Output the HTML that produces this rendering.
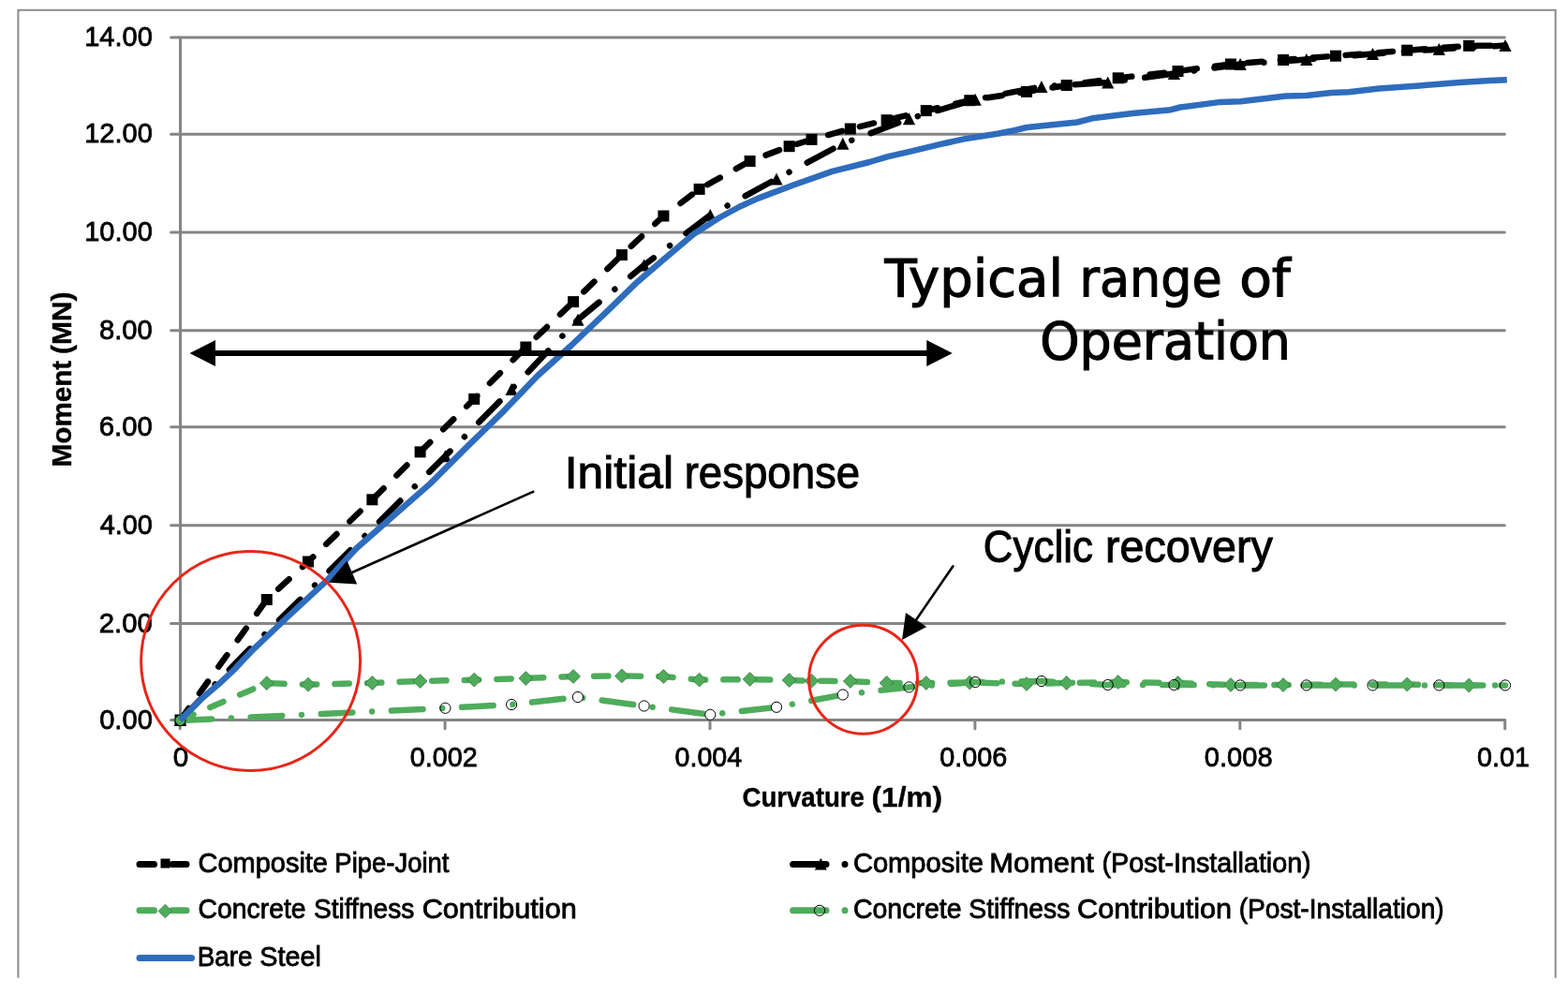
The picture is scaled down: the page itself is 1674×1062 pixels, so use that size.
<!DOCTYPE html>
<html lang="en"><head><meta charset="utf-8"><title>Moment-Curvature chart</title>
<style>html,body{margin:0;padding:0;background:#fff;}svg{display:block;}text{font-family:"Liberation Sans",sans-serif;fill:#000;}.lg{font-family:"DejaVu Sans","Liberation Sans",sans-serif;}</style></head><body>
<svg width="1674" height="1062" viewBox="0 0 1674 1062">
<rect width="1674" height="1062" fill="#fff"/>
<path d="M19.4,1043.7 V10.65 H1660.65 V1043.7" fill="none" stroke="#8a8a8a" stroke-width="2"/>
<g stroke="#858585" stroke-width="3" stroke-linecap="round" fill="none">
<line x1="182.6" y1="768.5" x2="1606.3" y2="768.5"/>
<line x1="182.6" y1="665.6" x2="1606.3" y2="665.6"/>
<line x1="182.6" y1="560.7" x2="1606.3" y2="560.7"/>
<line x1="182.6" y1="455.8" x2="1606.3" y2="455.8"/>
<line x1="182.6" y1="352.7" x2="1606.3" y2="352.7"/>
<line x1="182.6" y1="248.0" x2="1606.3" y2="248.0"/>
<line x1="182.6" y1="143.2" x2="1606.3" y2="143.2"/>
<line x1="182.6" y1="39.9" x2="1606.3" y2="39.9"/>
<line x1="192.5" y1="39.9" x2="192.5" y2="768.5"/>
<line x1="192.2" y1="768.5" x2="192.2" y2="777.7"/>
<line x1="475.1" y1="768.5" x2="475.1" y2="777.7"/>
<line x1="758.0" y1="768.5" x2="758.0" y2="777.7"/>
<line x1="1040.9" y1="768.5" x2="1040.9" y2="777.7"/>
<line x1="1323.8" y1="768.5" x2="1323.8" y2="777.7"/>
<line x1="1606.7" y1="768.5" x2="1606.7" y2="777.7"/>
</g>
<text x="106.16" y="777.7" font-size="29.4" textLength="56.67" lengthAdjust="spacingAndGlyphs" stroke="#000" stroke-width="0.8">0.00</text>
<text x="105.83" y="674.8" font-size="29.4" textLength="57.02" lengthAdjust="spacingAndGlyphs" stroke="#000" stroke-width="0.8">2.00</text>
<text x="106.64" y="569.9" font-size="29.4" textLength="56.19" lengthAdjust="spacingAndGlyphs" stroke="#000" stroke-width="0.8">4.00</text>
<text x="105.81" y="465.0" font-size="29.4" textLength="57.03" lengthAdjust="spacingAndGlyphs" stroke="#000" stroke-width="0.8">6.00</text>
<text x="106.03" y="361.9" font-size="29.4" textLength="56.81" lengthAdjust="spacingAndGlyphs" stroke="#000" stroke-width="0.8">8.00</text>
<text x="90.19" y="257.2" font-size="29.4" textLength="72.65" lengthAdjust="spacingAndGlyphs" stroke="#000" stroke-width="0.8">10.00</text>
<text x="90.19" y="152.4" font-size="29.4" textLength="72.65" lengthAdjust="spacingAndGlyphs" stroke="#000" stroke-width="0.8">12.00</text>
<text x="90.19" y="49.1" font-size="29.4" textLength="72.65" lengthAdjust="spacingAndGlyphs" stroke="#000" stroke-width="0.8">14.00</text>
<text x="184.84" y="818.0" font-size="29.4" textLength="16.52" lengthAdjust="spacingAndGlyphs" stroke="#000" stroke-width="0.8">0</text>
<text x="437.67" y="818.0" font-size="29.4" textLength="72.07" lengthAdjust="spacingAndGlyphs" stroke="#000" stroke-width="0.8">0.002</text>
<text x="720.58" y="818.0" font-size="29.4" textLength="71.45" lengthAdjust="spacingAndGlyphs" stroke="#000" stroke-width="0.8">0.004</text>
<text x="1003.17" y="818.0" font-size="29.4" textLength="72.09" lengthAdjust="spacingAndGlyphs" stroke="#000" stroke-width="0.8">0.006</text>
<text x="1285.87" y="818.0" font-size="29.4" textLength="72.70" lengthAdjust="spacingAndGlyphs" stroke="#000" stroke-width="0.8">0.008</text>
<text x="1577.08" y="818.0" font-size="29.4" textLength="55.93" lengthAdjust="spacingAndGlyphs" stroke="#000" stroke-width="0.8">0.01</text>
<text x="792.47" y="861.0" font-size="29.8" font-weight="bold" textLength="130.38" lengthAdjust="spacingAndGlyphs" stroke="#000" stroke-width="0.4">Curvature</text>
<text x="930.63" y="861.0" font-size="29.8" font-weight="bold" textLength="75.34" lengthAdjust="spacingAndGlyphs" stroke="#000" stroke-width="0.4">(1/m)</text>
<g transform="translate(76.3,0) rotate(-90)">
<text x="-498.38" y="0.0" font-size="29.8" font-weight="bold" textLength="113.54" lengthAdjust="spacingAndGlyphs" stroke="#000" stroke-width="0.4">Moment</text>
<text x="-377.99" y="0.0" font-size="29.8" font-weight="bold" textLength="66.48" lengthAdjust="spacingAndGlyphs" stroke="#000" stroke-width="0.4">(MN)</text>
</g>
<polyline points="192.5,768.5 263.2,696.0 333.9,626.8 404.7,557.0 475.4,486.8 546.1,415.6 616.9,341.3 687.6,283.0 758.3,229.5 829.0,190.9 899.8,153.3 970.5,126.8 1041.2,106.2 1111.9,92.4 1182.7,88.0 1253.4,78.5 1324.1,68.5 1394.8,63.5 1465.5,57.5 1536.3,52.5 1607.0,48.6" fill="none" stroke="#000" stroke-width="6.5" stroke-linecap="round" stroke-linejoin="round" stroke-dasharray="31.5 21.75 0.01 21.75"/>
<g fill="#000">
<path d="M192.5,762.0 l6.6,13 h-13.2 z"/>
<path d="M475.4,480.3 l6.6,13 h-13.2 z"/>
<path d="M546.1,409.1 l6.6,13 h-13.2 z"/>
<path d="M616.9,334.8 l6.6,13 h-13.2 z"/>
<path d="M687.6,276.5 l6.6,13 h-13.2 z"/>
<path d="M758.3,223.0 l6.6,13 h-13.2 z"/>
<path d="M829.0,184.4 l6.6,13 h-13.2 z"/>
<path d="M899.8,146.8 l6.6,13 h-13.2 z"/>
<path d="M970.5,120.3 l6.6,13 h-13.2 z"/>
<path d="M1041.2,99.7 l6.6,13 h-13.2 z"/>
<path d="M1111.9,85.9 l6.6,13 h-13.2 z"/>
<path d="M1182.7,81.5 l6.6,13 h-13.2 z"/>
<path d="M1253.4,72.0 l6.6,13 h-13.2 z"/>
<path d="M1324.1,62.0 l6.6,13 h-13.2 z"/>
<path d="M1394.8,57.0 l6.6,13 h-13.2 z"/>
<path d="M1465.5,51.0 l6.6,13 h-13.2 z"/>
<path d="M1536.3,46.0 l6.6,13 h-13.2 z"/>
<path d="M1607.0,42.1 l6.6,13 h-13.2 z"/>
</g>
<polyline points="192.5,768.5 284.8,640.0 329.0,599.5 397.4,533.3 448.6,482.4 506.2,425.9 561.4,370.5 612.1,322.1 663.9,272.1 708.4,230.5 746.6,201.9 800.6,172.0 842.6,156.2 866.5,148.9 907.8,137.5 946.6,128.2 988.8,118.1 1035.3,107.2 1096.0,97.9 1138.7,91.0 1193.7,83.3 1257.5,76.0 1314.0,68.5 1370.0,64.0 1426.0,59.7 1502.2,53.7 1568.2,48.9 1607.0,48.5" fill="none" stroke="#000" stroke-width="6.5" stroke-linecap="round" stroke-linejoin="round" stroke-dasharray="15.5 19.5"/>
<g fill="#000">
<rect x="186.5" y="762.5" width="12" height="12"/>
<rect x="278.8" y="634.0" width="12" height="12"/>
<rect x="323.0" y="593.5" width="12" height="12"/>
<rect x="391.4" y="527.3" width="12" height="12"/>
<rect x="442.6" y="476.4" width="12" height="12"/>
<rect x="500.2" y="419.9" width="12" height="12"/>
<rect x="555.4" y="364.5" width="12" height="12"/>
<rect x="606.1" y="316.1" width="12" height="12"/>
<rect x="657.9" y="266.1" width="12" height="12"/>
<rect x="702.4" y="224.5" width="12" height="12"/>
<rect x="740.6" y="195.9" width="12" height="12"/>
<rect x="794.6" y="166.0" width="12" height="12"/>
<rect x="836.6" y="150.2" width="12" height="12"/>
<rect x="860.5" y="142.9" width="12" height="12"/>
<rect x="901.8" y="131.5" width="12" height="12"/>
<rect x="940.6" y="122.2" width="12" height="12"/>
<rect x="982.8" y="112.1" width="12" height="12"/>
<rect x="1029.3" y="101.2" width="12" height="12"/>
<rect x="1090.0" y="91.9" width="12" height="12"/>
<rect x="1132.7" y="85.0" width="12" height="12"/>
<rect x="1187.7" y="77.3" width="12" height="12"/>
<rect x="1251.5" y="70.0" width="12" height="12"/>
<rect x="1308.0" y="62.5" width="12" height="12"/>
<rect x="1364.0" y="58.0" width="12" height="12"/>
<rect x="1420.0" y="53.7" width="12" height="12"/>
<rect x="1496.2" y="47.7" width="12" height="12"/>
<rect x="1562.2" y="42.9" width="12" height="12"/>
</g>
<polyline points="192.5,768.5 284.8,729.2 329.0,730.6 397.4,729.0 448.6,727.0 506.2,725.7 561.4,724.0 612.1,722.0 663.9,721.4 708.4,722.0 746.6,725.7 800.6,725.0 842.6,726.0 866.5,726.7 907.8,727.0 946.6,729.0 988.8,729.0 1035.3,728.5 1096.0,730.0 1138.7,729.0 1193.7,728.0 1257.5,729.0 1314.0,731.0 1370.0,731.0 1426.0,730.5 1502.2,730.5 1568.2,731.5 1607.0,731.5" fill="none" stroke="#4EAC5B" stroke-width="6.5" stroke-linecap="round" stroke-linejoin="round" stroke-dasharray="15.3 19.3"/>
<g fill="#4EAC5B" stroke="#2e6e3a" stroke-width="0.7">
<path d="M192.5,761.1 l7.4,7.4 l-7.4,7.4 l-7.4,-7.4 z"/>
<path d="M284.8,721.8 l7.4,7.4 l-7.4,7.4 l-7.4,-7.4 z"/>
<path d="M329.0,723.2 l7.4,7.4 l-7.4,7.4 l-7.4,-7.4 z"/>
<path d="M397.4,721.6 l7.4,7.4 l-7.4,7.4 l-7.4,-7.4 z"/>
<path d="M448.6,719.6 l7.4,7.4 l-7.4,7.4 l-7.4,-7.4 z"/>
<path d="M506.2,718.3 l7.4,7.4 l-7.4,7.4 l-7.4,-7.4 z"/>
<path d="M561.4,716.6 l7.4,7.4 l-7.4,7.4 l-7.4,-7.4 z"/>
<path d="M612.1,714.6 l7.4,7.4 l-7.4,7.4 l-7.4,-7.4 z"/>
<path d="M663.9,714.0 l7.4,7.4 l-7.4,7.4 l-7.4,-7.4 z"/>
<path d="M708.4,714.6 l7.4,7.4 l-7.4,7.4 l-7.4,-7.4 z"/>
<path d="M746.6,718.3 l7.4,7.4 l-7.4,7.4 l-7.4,-7.4 z"/>
<path d="M800.6,717.6 l7.4,7.4 l-7.4,7.4 l-7.4,-7.4 z"/>
<path d="M842.6,718.6 l7.4,7.4 l-7.4,7.4 l-7.4,-7.4 z"/>
<path d="M866.5,719.3 l7.4,7.4 l-7.4,7.4 l-7.4,-7.4 z"/>
<path d="M907.8,719.6 l7.4,7.4 l-7.4,7.4 l-7.4,-7.4 z"/>
<path d="M946.6,721.6 l7.4,7.4 l-7.4,7.4 l-7.4,-7.4 z"/>
<path d="M988.8,721.6 l7.4,7.4 l-7.4,7.4 l-7.4,-7.4 z"/>
<path d="M1035.3,721.1 l7.4,7.4 l-7.4,7.4 l-7.4,-7.4 z"/>
<path d="M1096.0,722.6 l7.4,7.4 l-7.4,7.4 l-7.4,-7.4 z"/>
<path d="M1138.7,721.6 l7.4,7.4 l-7.4,7.4 l-7.4,-7.4 z"/>
<path d="M1193.7,720.6 l7.4,7.4 l-7.4,7.4 l-7.4,-7.4 z"/>
<path d="M1257.5,721.6 l7.4,7.4 l-7.4,7.4 l-7.4,-7.4 z"/>
<path d="M1314.0,723.6 l7.4,7.4 l-7.4,7.4 l-7.4,-7.4 z"/>
<path d="M1370.0,723.6 l7.4,7.4 l-7.4,7.4 l-7.4,-7.4 z"/>
<path d="M1426.0,723.1 l7.4,7.4 l-7.4,7.4 l-7.4,-7.4 z"/>
<path d="M1502.2,723.1 l7.4,7.4 l-7.4,7.4 l-7.4,-7.4 z"/>
<path d="M1568.2,724.1 l7.4,7.4 l-7.4,7.4 l-7.4,-7.4 z"/>
</g>
<polyline points="192.5,769.0 263.2,765.7 333.9,762.4 404.7,759.1 475.4,755.8 546.1,752.0 616.9,744.0 687.6,753.5 758.3,762.8 829.0,754.8 899.8,741.5 970.5,733.4 1041.2,728.0 1111.9,727.0 1182.7,731.0 1253.4,731.0 1324.1,731.4 1394.8,731.4 1465.5,731.4 1536.3,731.4 1607.0,731.4" fill="none" stroke="#4EAC5B" stroke-width="6.5" stroke-linecap="round" stroke-linejoin="round" stroke-dasharray="33.7 20.75 0.01 20.75"/>
<g fill="none" stroke="#000" stroke-width="1">
<circle cx="192.5" cy="769.0" r="5.6"/>
<circle cx="475.4" cy="755.8" r="5.6"/>
<circle cx="546.1" cy="752.0" r="5.6"/>
<circle cx="616.9" cy="744.0" r="5.6" fill="#fff"/>
<circle cx="687.6" cy="753.5" r="5.6" fill="#fff"/>
<circle cx="758.3" cy="762.8" r="5.6" fill="#fff"/>
<circle cx="829.0" cy="754.8" r="5.6" fill="#fff"/>
<circle cx="899.8" cy="741.5" r="5.6" fill="#fff"/>
<circle cx="970.5" cy="733.4" r="5.6"/>
<circle cx="1041.2" cy="728.0" r="5.6"/>
<circle cx="1111.9" cy="727.0" r="5.6"/>
<circle cx="1182.7" cy="731.0" r="5.6"/>
<circle cx="1253.4" cy="731.0" r="5.6"/>
<circle cx="1324.1" cy="731.4" r="5.6"/>
<circle cx="1394.8" cy="731.4" r="5.6"/>
<circle cx="1465.5" cy="731.4" r="5.6"/>
<circle cx="1536.3" cy="731.4" r="5.6"/>
<circle cx="1607.0" cy="731.4" r="5.6"/>
</g>
<polyline points="192.3,768.8 205.0,756.0 216.9,744.3 233.9,729.8 250.8,714.0 259.3,704.8 270.7,692.8 308.6,657.0 348.2,620.4 380.0,585.7 419.5,551.0 459.1,516.4 498.6,476.9 538.2,438.3 574.0,401.0 609.5,369.0 649.1,331.4 680.7,300.7 708.4,277.0 740.0,250.3 767.7,232.5 789.8,220.5 809.5,211.6 849.1,196.8 888.6,182.9 928.2,173.0 948.0,167.1 970.0,162.2 1009.5,152.7 1029.3,148.4 1064.9,142.8 1080.0,139.8 1096.1,136.0 1149.9,130.5 1166.0,126.3 1209.0,121.0 1249.9,117.2 1260.0,114.5 1303.0,108.9 1324.5,108.2 1372.9,102.6 1394.4,102.0 1421.3,99.1 1440.0,98.2 1472.3,94.4 1515.3,91.4 1558.3,88.0 1590.5,85.9 1608.8,85.3" fill="none" stroke="#2E6CBD" stroke-width="6.5" stroke-linecap="butt" stroke-linejoin="round"/>
<circle cx="267.6" cy="705.5" r="117" fill="none" stroke="#E82618" stroke-width="3"/>
<circle cx="921.6" cy="725.25" r="57.95" fill="none" stroke="#E82618" stroke-width="3"/>
<line x1="225" y1="377" x2="995" y2="377" stroke="#000" stroke-width="6"/>
<path d="M202.5,377 L230,363 V391 Z M1016.8,377 L989.3,363 V391 Z" fill="#000"/>
<line x1="570.2" y1="524.4" x2="372" y2="612.7" stroke="#000" stroke-width="2.6"/>
<path d="M351,621.8 L370.5,598.6 L381.2,623.4 Z" fill="#000"/>
<line x1="1018" y1="603.5" x2="975" y2="666" stroke="#000" stroke-width="2.6"/>
<path d="M963,683.1 L967,653.9 L989.2,669.1 Z" fill="#000"/>
<text x="944.56" y="315.7" font-size="55.5" class="lg" textLength="190.46" lengthAdjust="spacingAndGlyphs" stroke="#000" stroke-width="1.2">Typical</text>
<text x="1152.55" y="315.7" font-size="55.5" class="lg" textLength="152.03" lengthAdjust="spacingAndGlyphs" stroke="#000" stroke-width="1.2">range</text>
<text x="1323.17" y="315.7" font-size="55.5" class="lg" textLength="54.65" lengthAdjust="spacingAndGlyphs" stroke="#000" stroke-width="1.2">of</text>
<text x="1110.18" y="383.0" font-size="55.5" class="lg" textLength="267.79" lengthAdjust="spacingAndGlyphs" stroke="#000" stroke-width="1.2">Operation</text>
<text x="602.70" y="520.8" font-size="47.5" textLength="116.33" lengthAdjust="spacingAndGlyphs" stroke="#000" stroke-width="1.0">Initial</text>
<text x="730.67" y="520.8" font-size="47.5" textLength="187.55" lengthAdjust="spacingAndGlyphs" stroke="#000" stroke-width="1.0">response</text>
<text x="1049.87" y="599.5" font-size="47.5" textLength="116.98" lengthAdjust="spacingAndGlyphs" stroke="#000" stroke-width="1.0">Cyclic</text>
<text x="1180.00" y="599.5" font-size="47.5" textLength="178.79" lengthAdjust="spacingAndGlyphs" stroke="#000" stroke-width="1.0">recovery</text>
<line x1="149" y1="922.6" x2="199" y2="922.6" stroke="#000" stroke-width="7" stroke-linecap="round" stroke-dasharray="15.5 19.5"/>
<rect x="171.5" y="916.5" width="10" height="10" fill="#000"/>
<text x="211.53" y="930.8" font-size="28.7" textLength="138.46" lengthAdjust="spacingAndGlyphs" stroke="#000" stroke-width="0.8">Composite</text>
<text x="357.35" y="930.8" font-size="28.7" textLength="122.05" lengthAdjust="spacingAndGlyphs" stroke="#000" stroke-width="0.8">Pipe-Joint</text>
<line x1="149" y1="971.8" x2="199" y2="971.8" stroke="#4EAC5B" stroke-width="7" stroke-linecap="round" stroke-dasharray="15.5 19.5"/>
<path d="M176.3,965.3 l7.2,7.2 l-7.2,7.2 l-7.2,-7.2 z" fill="#4EAC5B" stroke="#2e6e3a" stroke-width="0.7"/>
<text x="211.56" y="979.7" font-size="28.7" textLength="115.00" lengthAdjust="spacingAndGlyphs" stroke="#000" stroke-width="0.8">Concrete</text>
<text x="334.93" y="979.7" font-size="28.7" textLength="107.49" lengthAdjust="spacingAndGlyphs" stroke="#000" stroke-width="0.8">Stiffness</text>
<text x="450.65" y="979.7" font-size="28.7" textLength="165.04" lengthAdjust="spacingAndGlyphs" stroke="#000" stroke-width="0.8">Contribution</text>
<line x1="149" y1="1022.4" x2="204.5" y2="1022.4" stroke="#2E6CBD" stroke-width="7" stroke-linecap="round"/>
<text x="210.71" y="1030.5" font-size="28.7" textLength="58.93" lengthAdjust="spacingAndGlyphs" stroke="#000" stroke-width="0.8">Bare</text>
<text x="277.29" y="1030.5" font-size="28.7" textLength="65.63" lengthAdjust="spacingAndGlyphs" stroke="#000" stroke-width="0.8">Steel</text>
<line x1="846.6" y1="922.6" x2="902" y2="922.6" stroke="#000" stroke-width="7" stroke-linecap="round" stroke-dasharray="35.4 20 0.01 20"/>
<path d="M876.3,915.7 l6.5,12.9 h-13 z" fill="#000"/>
<text x="910.92" y="930.8" font-size="28.7" textLength="139.07" lengthAdjust="spacingAndGlyphs" stroke="#000" stroke-width="0.8">Composite</text>
<text x="1056.37" y="930.8" font-size="28.7" textLength="111.35" lengthAdjust="spacingAndGlyphs" stroke="#000" stroke-width="0.8">Moment</text>
<text x="1176.52" y="930.8" font-size="28.7" textLength="223.16" lengthAdjust="spacingAndGlyphs" stroke="#000" stroke-width="0.8">(Post-Installation)</text>
<line x1="846.6" y1="971.8" x2="902" y2="971.8" stroke="#4EAC5B" stroke-width="7" stroke-linecap="round" stroke-dasharray="35.4 20 0.01 20"/>
<circle cx="875" cy="971.8" r="5.6" fill="none" stroke="#000" stroke-width="1"/>
<text x="910.95" y="979.7" font-size="28.7" textLength="115.61" lengthAdjust="spacingAndGlyphs" stroke="#000" stroke-width="0.8">Concrete</text>
<text x="1034.22" y="979.7" font-size="28.7" textLength="108.20" lengthAdjust="spacingAndGlyphs" stroke="#000" stroke-width="0.8">Stiffness</text>
<text x="1150.05" y="979.7" font-size="28.7" textLength="164.94" lengthAdjust="spacingAndGlyphs" stroke="#000" stroke-width="0.8">Contribution</text>
<text x="1322.65" y="979.7" font-size="28.7" textLength="219.09" lengthAdjust="spacingAndGlyphs" stroke="#000" stroke-width="0.8">(Post-Installation)</text>
</svg></body></html>
